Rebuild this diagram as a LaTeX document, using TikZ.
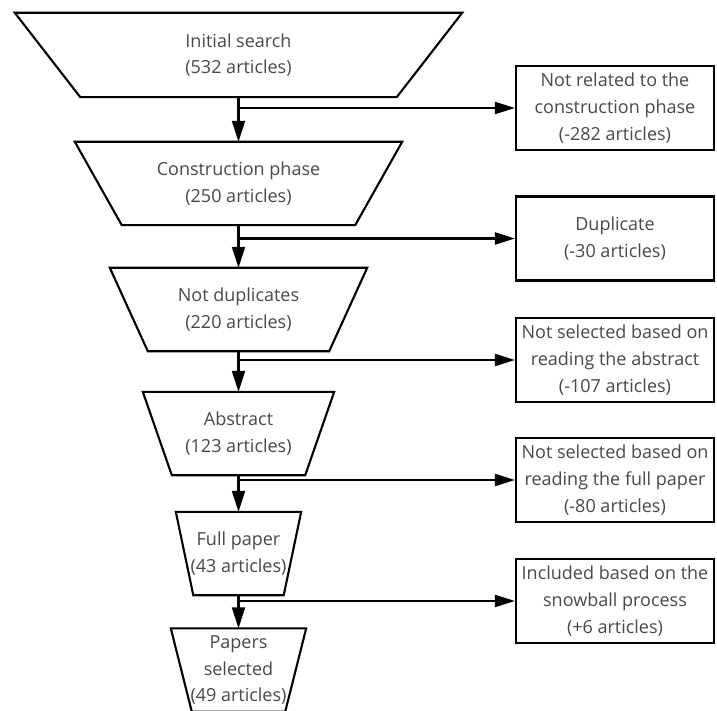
\documentclass[tikz,border=0pt]{standalone}
\usepackage{fontspec}
\setmainfont{Open Sans}
\usetikzlibrary{arrows.meta,calc}
\definecolor{txt}{RGB}{72,72,72}
\begin{document}
\begin{tikzpicture}[x=1pt,y=-1pt,
  lw/.style={line width=2.1pt},
  trap/.style={inner sep=0pt, align=center, text=txt,
    font=\fontsize{18}{26.7}\selectfont, minimum height=83pt},
  sidebox/.style={draw, lw, inner sep=0pt, align=center, text=txt,
    font=\fontsize{18}{26.7}\selectfont, minimum width=198pt, minimum height=84pt},
  flow/.style={lw, -{Triangle[length=21pt,width=13pt]}},
  side/.style={lw, -{Triangle[length=20pt,width=12pt]}}]
\useasboundingbox (0,0) rectangle (717,711);
\clip (0,0) rectangle (717,711);
% trapezoid text nodes
\node[trap, minimum width=447pt, minimum height=84pt] (t1) at (238.5,55) {Initial search\\(532 articles)};
\node[trap, minimum width=327pt] (t2) at (238.5,183.5) {Construction phase\\(250 articles)};
\node[trap, minimum width=257pt] (t3) at (238.5,309.5) {Not duplicates\\(220 articles)};
\node[trap, minimum width=191pt] (t4) at (238.5,433.5) {Abstract\\(123 articles)};
\node[trap, minimum width=125pt] (t5) at (238.5,553.5) {Full paper\\(43 articles)};
\node[trap, minimum width=135pt] (t6) at (238.5,670) {Papers\\selected\\(49 articles)};
% trapezoid outlines
\foreach \n/\d in {t1/65.5, t2/47, t3/38, t4/29, t5/17.5, t6/21}{
  \draw[lw, line join=miter] (\n.north west) -- (\n.north east)
    -- ($(\n.south east)+(-\d,0)$) -- ($(\n.south west)+(\d,0)$) -- cycle;
}
% side boxes
\node[sidebox] (b1) at (615,108) {Not related to the\\construction phase\\(-282 articles)};
\node[sidebox] (b2) at (615,238.5) {Duplicate\\(-30 articles)};
\node[sidebox] (b3) at (615,360) {Not selected based on\\reading the abstract\\(-107 articles)};
\node[sidebox] (b4) at (615,480) {Not selected based on\\reading the full paper\\(-80 articles)};
\node[sidebox] (b5) at (615,601) {Included based on the\\snowball process\\(+6 articles)};
% main flow
\draw[flow] (t1.south) -- (t2.north);
\draw[flow] (t2.south) -- (t3.north);
\draw[flow] (t3.south) -- (t4.north);
\draw[flow] (t4.south) -- (t5.north);
\draw[flow] (t5.south) -- (t6.north);
% side branches
\draw[side] (t1.south |- b1.west) -- (b1.west);
\draw[side] (t2.south |- b2.west) -- (b2.west);
\draw[side] (t3.south |- b3.west) -- (b3.west);
\draw[side] (t4.south |- b4.west) -- (b4.west);
\draw[side] (t5.south |- b5.west) -- (b5.west);
\end{tikzpicture}
\end{document}
